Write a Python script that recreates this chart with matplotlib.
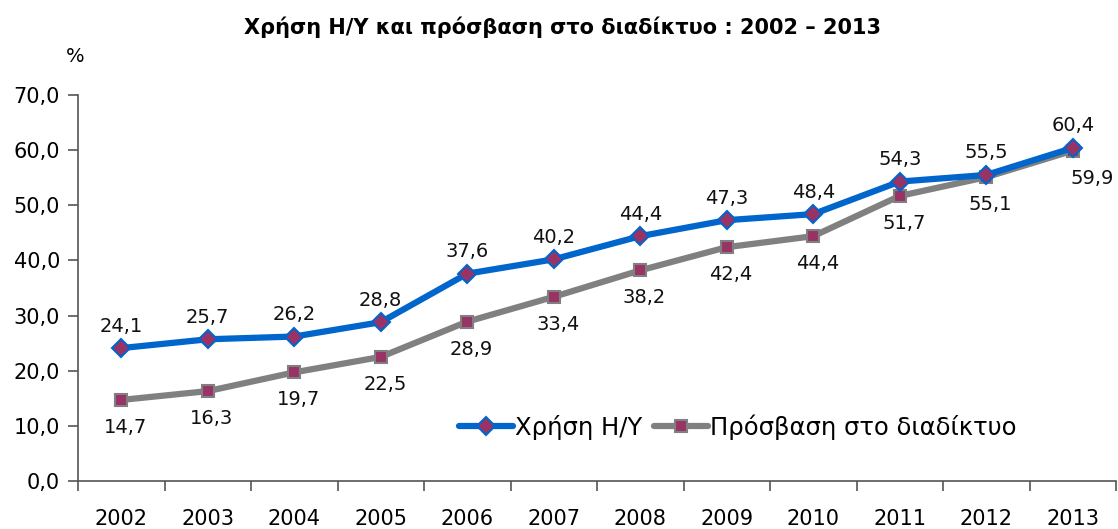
import matplotlib
matplotlib.use("Agg")
import matplotlib.pyplot as plt
from matplotlib.ticker import FixedLocator, FuncFormatter

years = ["2002", "2003", "2004", "2005", "2006", "2007", "2008", "2009", "2010", "2011", "2012", "2013"]
pc_use = [24.1, 25.7, 26.2, 28.8, 37.6, 40.2, 44.4, 47.3, 48.4, 54.3, 55.5, 60.4]
internet = [14.7, 16.3, 19.7, 22.5, 28.9, 33.4, 38.2, 42.4, 44.4, 51.7, 55.1, 59.9]
series_names = ["Χρήση Η/Υ", "Πρόσβαση στο διαδίκτυο"]
title = "Χρήση Η/Υ και πρόσβαση στο διαδίκτυο : 2002 – 2013"

plt.rcParams['font.family'] = ['DejaVu Sans']

fig = plt.figure(figsize=(11.18, 5.29), dpi=100)
ax = fig.add_axes([78/1118, 1-481/529, (1116-78)/1118, (481-95)/529])

x = list(range(len(years)))
blue = "#0066CC"
gray = "#808080"
mface = "#993366"

ax.plot(x, pc_use, color=blue, lw=4.5, marker="D", ms=9, mfc=mface, mec=blue, mew=1.5,
        label=series_names[0], solid_capstyle="round", zorder=3)
ax.plot(x, internet, color=gray, lw=4.5, marker="s", ms=9, mfc=mface, mec=gray, mew=1.5,
        label=series_names[1], solid_capstyle="round", zorder=2)

fmt = lambda v: f"{v:.1f}".replace(".", ",")
for i, v in enumerate(pc_use):
    ax.annotate(fmt(v), (i, v), xytext=(0, 9), textcoords="offset points",
                ha="center", va="bottom", fontsize=14, color="#111111")
for i, v in enumerate(internet):
    dx = 14 if i == len(internet) - 1 else 3
    ax.annotate(fmt(v), (i, v), xytext=(dx, -13), textcoords="offset points",
                ha="center", va="top", fontsize=14, color="#111111")

ax.set_xlim(-0.5, len(years) - 0.5)
ax.set_ylim(0, 70)
ax.yaxis.set_major_locator(FixedLocator([0, 10, 20, 30, 40, 50, 60, 70]))
ax.yaxis.set_major_formatter(FuncFormatter(lambda v, p: fmt(v)))
ax.set_xticks(x)
ax.set_xticklabels(years)
ax.set_xticks([i - 0.5 for i in range(len(years) + 1)], minor=True)
ax.tick_params(axis="x", which="major", length=0, pad=20, labelsize=15)
ax.tick_params(axis="x", which="minor", length=7, width=1.2, color="#555555", direction="out")
ax.tick_params(axis="y", which="major", length=7, width=1.2, color="#555555", labelsize=15, pad=6)
for s in ["top", "right"]:
    ax.spines[s].set_visible(False)
for s in ["left", "bottom"]:
    ax.spines[s].set_color("#555555")
    ax.spines[s].set_linewidth(1.2)

fig.text(562/1118, 1-27/529, title, ha="center", va="center", fontsize=15, fontweight="bold")
fig.text(75/1118, 1-57/529, "%", ha="center", va="center", fontsize=14)

leg = ax.legend(loc="center", bbox_to_anchor=(738/1118, 1-427/529), bbox_transform=fig.transFigure,
                ncol=2, frameon=False, fontsize=17.5, handlelength=2.2, handletextpad=0.1,
                columnspacing=0.5)

fig.savefig("out.png", dpi=100)
